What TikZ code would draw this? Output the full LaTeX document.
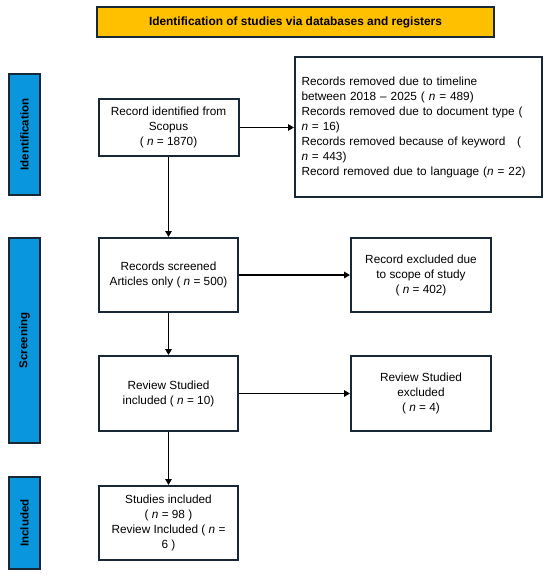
\documentclass[tikz,border=0pt]{standalone}
\usepackage{fontspec}
\setmainfont{Liberation Sans}
\usetikzlibrary{arrows.meta}
\definecolor{hdryellow}{RGB}{255,192,0}
\definecolor{barblue}{RGB}{10,150,220}
\definecolor{edgenavy}{RGB}{25,40,55}
\tikzset{
  flowbox/.style={draw=edgenavy, line width=2pt, fill=white, align=center, font=\fontsize{11.8}{15}\selectfont, inner sep=2pt},
  phasebar/.style={draw=edgenavy, line width=2pt, fill=barblue, font=\bfseries\fontsize{11.5}{13}\selectfont, rotate=90},
  flowarrow/.style={draw=black, line width=1.8pt, -{Triangle[length=6pt,width=6.5pt]}}
}
\begin{document}
\begin{tikzpicture}[x=1pt,y=-1pt]
\useasboundingbox (0,0) rectangle (550,576);
% header
\node[draw=edgenavy, line width=2pt, fill=hdryellow, minimum width=397pt, minimum height=30pt, font=\bfseries\fontsize{11.9}{13}\selectfont] (hdr) at (295.5,22) {Identification of studies via databases and registers};
% phase bars
\node[phasebar, minimum width=121pt, minimum height=31pt] (barid) at (24.5,134.5) {Identification};
\node[phasebar, minimum width=205pt, minimum height=31pt] (barsc) at (24.5,340.5) {Screening};
\node[phasebar, minimum width=92pt, minimum height=31pt] (barin) at (24.5,523) {Included};
% boxes
\node[flowbox, minimum width=140pt, minimum height=57pt] (ident) at (168.5,127.5) {Record identified from\\Scopus\\( \textit{n} = 1870)};
\node[flowbox, minimum width=247pt, minimum height=140pt, align=left, text width=234pt, inner xsep=6.5pt] (removed) at (418.5,127) {Records removed due to timeline\\between 2018 -- 2025 ( \textit{n} = 489)\\Records removed due to document type (\\\textit{n} = 16)\\Records removed because of keyword\quad(\\\textit{n} = 443)\\Record removed due to language (\textit{n} = 22)};
\node[flowbox, minimum width=139pt, minimum height=74pt] (screen) at (168.5,275) {Records screened\\Articles only ( \textit{n} = 500)};
\node[flowbox, minimum width=140pt, minimum height=74pt] (excl) at (421,275) {Record excluded due\\to scope of study\\( \textit{n} = 402)};
\node[flowbox, minimum width=139pt, minimum height=75pt] (revin) at (168.5,393.5) {Review Studied\\included ( \textit{n} = 10)};
\node[flowbox, minimum width=140pt, minimum height=75pt] (revex) at (421,393.5) {Review Studied\\excluded\\( \textit{n} = 4)};
\node[flowbox, minimum width=139pt, minimum height=74pt] (incl) at (168.5,523) {Studies included\\( \textit{n} = 98 )\\Review Included ( \textit{n} =\\6 )};
% arrows
\draw[flowarrow] (ident.east) -- (removed.west |- ident.east);
\draw[flowarrow] (ident.south) -- (screen.north);
\draw[flowarrow] (screen.east) -- (excl.west);
\draw[flowarrow] (screen.south) -- (revin.north);
\draw[flowarrow] (revin.east) -- (revex.west);
\draw[flowarrow] (revin.south) -- (incl.north);
\end{tikzpicture}
\end{document}
